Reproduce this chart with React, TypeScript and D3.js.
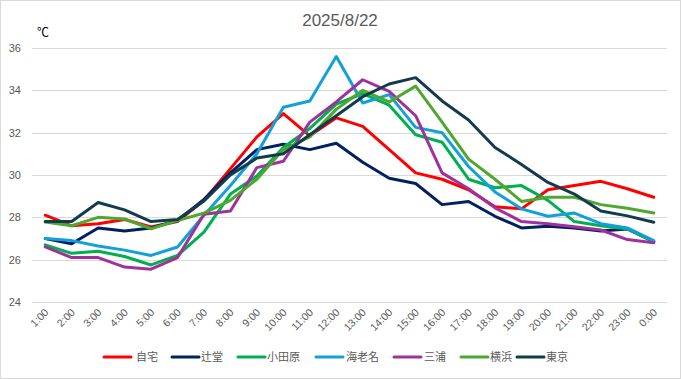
import React from "react";
import * as d3 from "d3";

const hours = ["1:00","2:00","3:00","4:00","5:00","6:00","7:00","8:00","9:00","10:00","11:00","12:00","13:00","14:00","15:00","16:00","17:00","18:00","19:00","20:00","21:00","22:00","23:00","0:00"];
const seriesNames = ["自宅","辻堂","小田原","海老名","三浦","横浜","東京"];
const seriesColors = ["#FF0000","#002060","#00B050","#12A0DA","#A0309C","#4EA72E","#123C4E"];

const jitaku = [28.1,27.6,27.7,27.9,27.55,27.8,28.8,30.3,31.8,32.9,31.85,32.7,32.3,31.2,30.1,29.8,29.3,28.5,28.4,29.3,29.5,29.7,29.35,28.95];
const tsujido = [27.0,26.75,27.5,27.35,27.5,27.85,28.85,30.1,31.2,31.45,31.2,31.5,30.6,29.85,29.6,28.6,28.75,28.05,27.5,27.58,27.5,27.35,27.45,26.85];
const odawara = [26.7,26.3,26.4,26.15,25.75,26.2,27.3,29.1,29.95,31.3,32.2,33.35,33.85,33.3,31.9,31.55,29.8,29.4,29.5,28.8,27.8,27.6,27.45,26.85];
const ebina = [27.0,26.9,26.65,26.45,26.2,26.6,28.1,29.5,31.0,33.2,33.5,35.6,33.4,33.8,32.25,32.0,30.4,29.2,28.4,28.05,28.2,27.7,27.5,26.9];
const miura = [26.6,26.1,26.1,25.65,25.55,26.1,28.15,28.3,30.35,30.65,32.5,33.45,34.5,33.95,32.8,30.1,29.35,28.45,27.8,27.7,27.55,27.4,26.95,26.8];
const yokohama = [27.78,27.6,28.0,27.92,27.46,27.85,28.2,28.8,29.8,31.2,31.8,33.1,34.0,33.45,34.2,32.5,30.75,29.8,28.75,28.95,28.95,28.6,28.43,28.2];
const tokyo = [27.8,27.8,28.7,28.35,27.8,27.9,28.77,30.0,30.8,31.0,31.9,32.8,33.7,34.3,34.6,33.5,32.6,31.3,30.5,29.65,29.1,28.3,28.07,27.77];

const seriesValues = [jitaku, tsujido, odawara, ebina, miura, yokohama, tokyo];
const yTicks = [24,26,28,30,32,34,36];

const W = 681, H = 379;
const NUM_FONT = "'Liberation Sans', Arial, sans-serif";
const JP_FONT = "'Noto Sans CJK JP', 'Liberation Sans', sans-serif";

export default function App() {
  const x = d3.scalePoint<string>().domain(hours).range([32, 667]).padding(0.5);
  const y = d3.scaleLinear().domain([24, 36]).range([302, 48]);
  const line = d3.line<number>().x((_, i) => x(hours[i]) as number).y((d) => y(d));

  const legendItems = [
    { lx: 104, tx: 136 },
    { lx: 172, tx: 201 },
    { lx: 238, tx: 267 },
    { lx: 316, tx: 346 },
    { lx: 394, tx: 424 },
    { lx: 461, tx: 490 },
    { lx: 517, tx: 546 },
  ];

  return (
    <div style={{ position: "fixed", left: 0, top: 0 }}>
      <svg width={W} height={H} style={{ display: "block", background: "#fff" }}>
        <rect x={0.5} y={0.5} width={W - 1} height={H - 1} fill="#fff" stroke="#D9D9D9" />
        <text x={340} y={26} textAnchor="middle" fontFamily={NUM_FONT} fontSize={17} fill="#595959">2025/8/22</text>
        <text x={37} y={37} fontFamily={JP_FONT} fontSize={12} fill="#000">℃</text>
        {yTicks.map((t) => (
          <g key={t}>
            <line x1={32} x2={667} y1={Math.round(y(t)) + 0.5} y2={Math.round(y(t)) + 0.5} stroke="#D9D9D9" strokeWidth={1} />
            <text x={21} y={y(t)} dy="0.35em" textAnchor="end" fontFamily={NUM_FONT} fontSize={11} fill="#595959">{t}</text>
          </g>
        ))}
        {hours.map((h) => (
          <text key={h} transform={`translate(${(x(h) as number) + 4},${313}) rotate(-45)`} textAnchor="end" fontFamily={NUM_FONT} fontSize={10.5} fill="#595959">{h}</text>
        ))}
        {seriesValues.map((vals, i) => (
          <path key={seriesNames[i]} d={line(vals) || ""} fill="none" stroke={seriesColors[i]} strokeWidth={3} strokeLinejoin="round" strokeLinecap="round" />
        ))}
        {seriesNames.map((n, i) => (
          <g key={n}>
            <line x1={legendItems[i].lx} x2={legendItems[i].lx + 27} y1={357} y2={357} stroke={seriesColors[i]} strokeWidth={3} strokeLinecap="round" />
            <text x={legendItems[i].tx} y={357} dy="0.35em" fontFamily={JP_FONT} fontSize={11} fill="#595959">{n}</text>
          </g>
        ))}
      </svg>
    </div>
  );
}
